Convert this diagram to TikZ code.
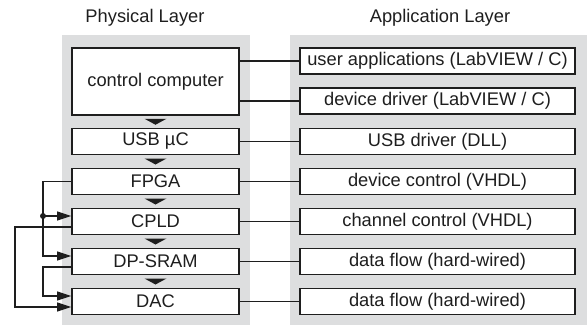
\documentclass[tikz,border=0pt]{standalone}
\usepackage{fontspec}
\setmainfont{Liberation Sans}
\usetikzlibrary{arrows.meta,calc}
\definecolor{panel}{RGB}{221,222,223}
\definecolor{ink}{RGB}{30,30,30}
\begin{document}
\begin{tikzpicture}[x=1bp,y=-1bp,
  every node/.style={font=\fontsize{18.3bp}{22bp}\selectfont, text=ink},
  lbox/.style={draw=ink, fill=white, line width=1.6bp, minimum width=167bp, minimum height=26bp, inner sep=0pt},
  rbox/.style={draw=ink, fill=white, line width=1.6bp, minimum width=275bp, minimum height=26bp, inner sep=0pt},
  conn/.style={draw=ink, line width=1.1bp},
  arr/.style={conn, -{Triangle[length=14bp,width=9bp]}},
  tri/.style={fill=ink}
]
\useasboundingbox (0,0) rectangle (587,325);
% panels
\fill[panel] (62,35) rectangle (250,325);
\fill[panel] (290,35) rectangle (587,325);
% titles
\node (tphys) at (145,18) {Physical Layer};
\node (tapp) at (440,18) {Application Layer};
% left boxes
\node[lbox, minimum height=67bp] (cc) at (155.5,81.5) {control computer};
\node[lbox] (usb) at (155.5,141.5) {USB µC};
\node[lbox] (fpga) at (155.5,181.5) {FPGA};
\node[lbox] (cpld) at (155.5,221.5) {CPLD};
\node[lbox] (sram) at (155.5,261.5) {DP-SRAM};
\node[lbox] (dac) at (155.5,301.5) {DAC};
% right boxes
\node[rbox] (ua) at (437.5,61) {user applications (LabVIEW / C)};
\node[rbox] (dd) at (437.5,101) {device driver (LabVIEW / C)};
\node[rbox] (ud) at (437.5,141.5) {USB driver (DLL)};
\node[rbox] (dc) at (437.5,181.5) {device control (VHDL)};
\node[rbox] (ch) at (437.5,221.5) {channel control (VHDL)};
\node[rbox] (df1) at (437.5,261.5) {data flow (hard-wired)};
\node[rbox] (df2) at (437.5,301.5) {data flow (hard-wired)};
% horizontal links
\draw[conn] (ua.west) -- (ua.west -| cc.east);
\draw[conn] (dd.west) -- (dd.west -| cc.east);
\draw[conn] (usb.east) -- (ud.west);
\draw[conn] (fpga.east) -- (dc.west);
\draw[conn] (cpld.east) -- (ch.west);
\draw[conn] (sram.east) -- (df1.west);
\draw[conn] (dac.east) -- (df2.west);
% down triangles
\foreach \a/\b in {cc/usb,usb/fpga,fpga/cpld,cpld/sram,sram/dac}{
  \fill[tri] ($(\a.south)!.5!(\b.north)+(-11,-3)$) -- ++(22,0) -- ++(-11,6) -- cycle;
}
% left connectors
\coordinate (bx) at (43,0);
\coordinate (fx) at (15,0);
\coordinate (cin) at ([yshift=5.5bp]cpld.west);
\coordinate (cout) at ([yshift=-5.5bp]cpld.west);
\coordinate (sin) at ([yshift=5.5bp]sram.west);
\coordinate (sout) at ([yshift=-5.5bp]sram.west);
\coordinate (din1) at ([yshift=5.5bp]dac.west);
\coordinate (din2) at ([yshift=-5.5bp]dac.west);
\draw[arr] (fpga.west) -- (fpga.west -| bx) -- (sin -| bx) -- (sin);
\fill[ink] (cin -| bx) circle (3);
\draw[arr] (cin -| bx) -- (cin);
\draw[arr] (cout) -- (cout -| fx) -- (din2 -| fx) -- (din2);
\draw[arr] (sout) -- (sout -| bx) -- (din1 -| bx) -- (din1);
\end{tikzpicture}
\end{document}
